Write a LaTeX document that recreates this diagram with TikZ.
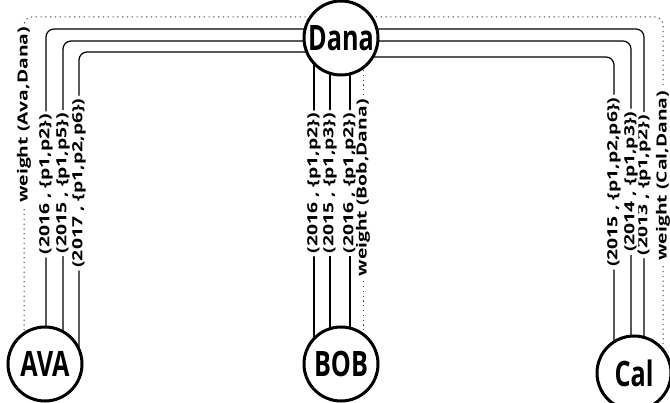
\documentclass[tikz,border=0pt]{standalone}
\usepackage{fontspec}
\setmainfont{Open Sans}
\newfontfamily\namefont{Open Sans}[FakeStretch=0.72]
\newfontfamily\labelfont{Open Sans}[FakeStretch=1.38]
\usetikzlibrary{backgrounds}
\begin{document}
\begin{tikzpicture}[x=1pt,y=-1pt,
  person/.style={circle,draw,line width=3pt,fill=white,minimum size=74pt,inner sep=0pt,
    font=\namefont\bfseries\fontsize{35}{35}\selectfont},
  edge/.style={line width=1.2pt,rounded corners=8pt},
  wedge/.style={line width=1pt,black!75,dash pattern=on 1.2pt off 3.6pt,rounded corners=8pt},
  lbl/.style={rotate=90,fill=white,text=black,inner xsep=3pt,inner ysep=0.5pt,
    font=\labelfont\bfseries\fontsize{14}{14}\selectfont}]
\useasboundingbox (0,0) rectangle (670,403);

% people
\node[person] (dana) at (341,38)  {Dana};
\node[person] (ava)  at (45,364)  {AVA};
\node[person] (bob)  at (341,364) {BOB};
\node[person] (cal)  at (634,373) {Cal};

\begin{scope}[on background layer]
  % Ava -- Dana
  \draw[edge] ([xshift=1pt]ava.center) |- node[lbl,pos=.268]{(2016 , \{p1,p2\})} ([yshift=9pt]dana.center);
  \draw[edge] ([xshift=18pt]ava.center) |- node[lbl,pos=.280]{(2015 , \{p1,p5\})} ([yshift=-3pt]dana.center);
  \draw[edge] ([xshift=34pt]ava.center) |- node[lbl,pos=.290]{(2017 , \{p1,p2,p6\})} ([yshift=-14pt]dana.center);
  \draw[wedge] ([xshift=-21pt]ava.center) |- node[lbl,pos=.359]{weight (Ava,Dana)} ([yshift=21pt]dana.center);

  % Bob -- Dana
  \draw[edge] ([xshift=-27pt]bob.center) -- node[lbl,pos=.554]{(2016 , \{p1,p2\})} ([xshift=-27pt]dana.center);
  \draw[edge] ([xshift=-11pt]bob.center) -- node[lbl,pos=.555]{(2015 , \{p1,p3\})} ([xshift=-11pt]dana.center);
  \draw[edge] ([xshift=9pt]bob.center) -- node[lbl,pos=.555]{(2016 , \{p1,p2\})} ([xshift=9pt]dana.center);
  \draw[wedge] ([xshift=22pt]bob.center) -- node[lbl,pos=.540]{weight (Bob,Dana)} ([xshift=22pt]dana.center);

  % Cal -- Dana
  \draw[edge] ([xshift=10pt]cal.center) |- node[lbl,pos=.273]{(2013 , \{p1,p2\})} ([yshift=9pt]dana.center);
  \draw[edge] ([xshift=-3pt]cal.center) |- node[lbl,pos=.288]{(2014 , \{p1,p3\})} ([yshift=-3pt]dana.center);
  \draw[edge] ([xshift=-20pt]cal.center) |- node[lbl,pos=.302]{(2015 , \{p1,p2,p6\})} ([yshift=-19pt]dana.center);
  \draw[wedge] ([xshift=29pt]cal.center) |- node[lbl,pos=.277]{weight (Cal,Dana)} ([yshift=21pt]dana.center);
\end{scope}
\end{tikzpicture}
\end{document}
